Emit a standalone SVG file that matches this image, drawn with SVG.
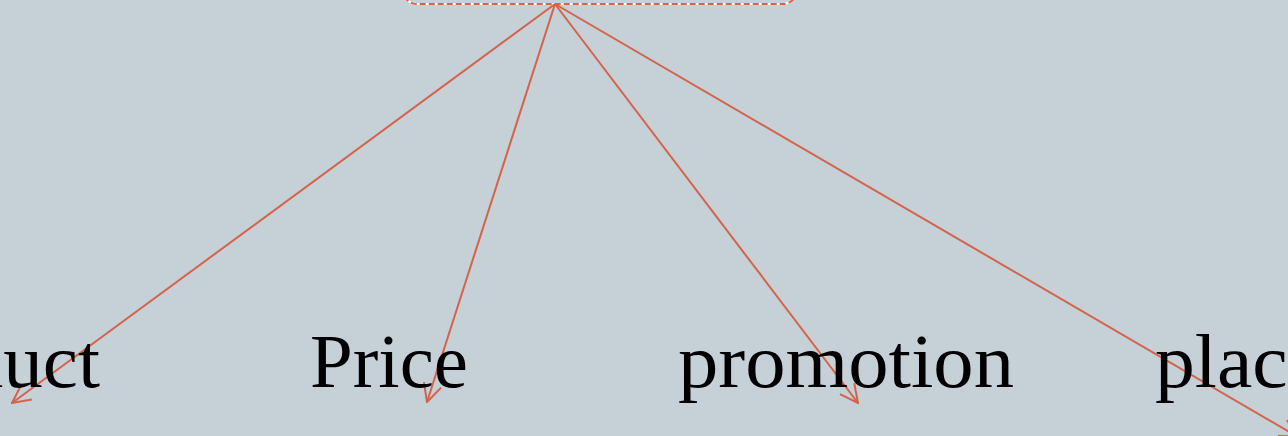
<svg xmlns="http://www.w3.org/2000/svg" width="1288" height="436" viewBox="0 0 1288 436">
<defs>
<style>
.lbl{font-family:"Liberation Serif","DejaVu Serif",serif;font-size:76px;fill:#000;}
.conn{stroke:#d4634a;stroke-width:2;fill:none;marker-end:url(#ah);}
</style>
<marker id="ah" viewBox="0 0 20 20" refX="19" refY="10" markerWidth="20" markerHeight="20" markerUnits="userSpaceOnUse" orient="auto">
<path d="M1,1 L19,10 L1,19" fill="none" stroke="#d4634a" stroke-width="2"/>
</marker>
</defs>
<rect width="1288" height="436" fill="#c5d0d7"/>
<g id="root">
<rect x="403" y="-40" width="394" height="44" rx="14" fill="#c5d0d7" stroke="#ffffff" stroke-width="2"/>
<rect x="403" y="-40" width="394" height="44" rx="14" fill="none" stroke="#d4634a" stroke-width="2" stroke-dasharray="6,3"/>
</g>
<g id="connectors">
<line class="conn" x1="555" y1="4" x2="12" y2="403"/>
<line class="conn" x1="555" y1="4" x2="427" y2="402"/>
<line class="conn" x1="555" y1="4" x2="858" y2="403"/>
<line class="conn" x1="555" y1="4" x2="1298" y2="437"/>
</g>
<g id="product"><text class="lbl" x="-142" y="387" textLength="242" lengthAdjust="spacingAndGlyphs">product</text></g>
<g id="price"><text class="lbl" x="310" y="387" textLength="158" lengthAdjust="spacingAndGlyphs">Price</text></g>
<g id="promotion"><text class="lbl" x="678" y="387" textLength="336" lengthAdjust="spacingAndGlyphs">promotion</text></g>
<g id="place"><text class="lbl" x="1155" y="387" textLength="168" lengthAdjust="spacingAndGlyphs">place</text></g>
</svg>
